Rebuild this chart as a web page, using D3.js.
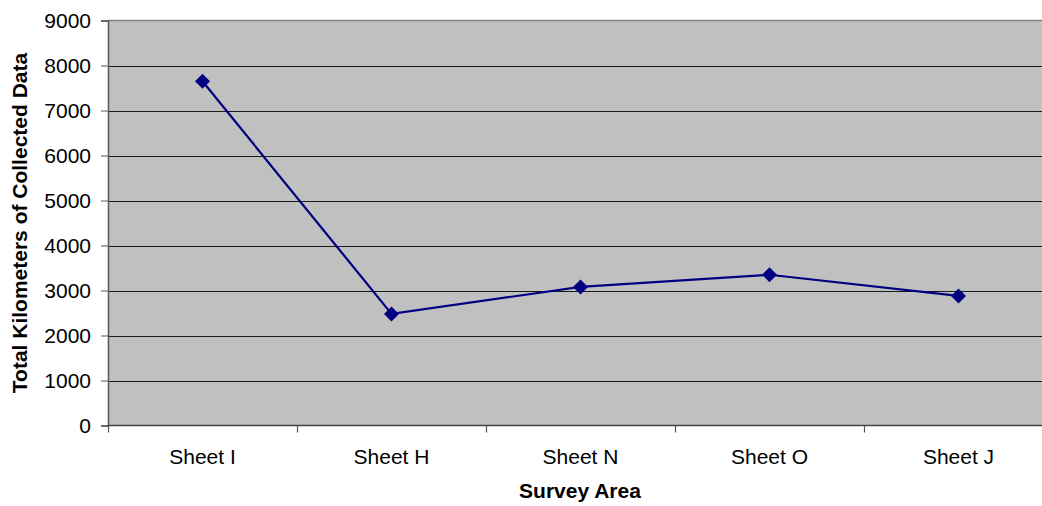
<!DOCTYPE html>
<html>
<head>
<meta charset="utf-8">
<script src="https://cdn.jsdelivr.net/npm/d3@7"></script>
<style>
  html, body { margin: 0; padding: 0; background: #fff; overflow: hidden; }
  svg { display: block; font-family: "Liberation Sans", Arial, sans-serif; }
</style>
</head>
<body>
<svg id="chart" width="1042" height="506"></svg>
<script>
// Survey areas and kilometres of data collected in each
const areas = ["Sheet I", "Sheet H", "Sheet N", "Sheet O", "Sheet J"];
const kilometers = [7650, 2480, 3080, 3350, 2880];
const yTicks = [0, 1000, 2000, 3000, 4000, 5000, 6000, 7000, 8000, 9000];

const svg = d3.select("#chart");
const plot = { left: 108, top: 20.5, right: 1053, bottom: 425.5 };
const FONT = "'Liberation Sans', Arial, sans-serif";

const x = d3.scaleBand().domain(areas).range([plot.left, plot.right]).padding(0);
const y = d3.scaleLinear().domain([0, 9000]).range([plot.bottom, plot.top]);

// plot background
svg.append("rect")
  .attr("x", plot.left).attr("y", plot.top)
  .attr("width", plot.right - plot.left).attr("height", plot.bottom - plot.top)
  .attr("fill", "#c0c0c0");

// top border of the plot
svg.append("line")
  .attr("x1", plot.left).attr("x2", plot.right)
  .attr("y1", plot.top).attr("y2", plot.top)
  .attr("stroke", "#808080").attr("stroke-width", 1.5);

// horizontal gridlines
svg.append("g").selectAll("line")
  .data(yTicks.filter(t => t > 0 && t < 9000))
  .join("line")
  .attr("x1", plot.left).attr("x2", plot.right)
  .attr("y1", d => Math.round(y(d)) + 0.5).attr("y2", d => Math.round(y(d)) + 0.5)
  .attr("stroke", "#1a1a1a").attr("stroke-width", 1.2);

// y axis
const yAxis = svg.append("g")
  .attr("transform", `translate(${plot.left},0)`)
  .call(d3.axisLeft(y).tickValues(yTicks).tickSize(7).tickPadding(10).tickFormat(d3.format("d")));
yAxis.select(".domain").attr("stroke", "#555").attr("stroke-width", 1.5);
yAxis.selectAll(".tick line").attr("stroke", "#555");
yAxis.selectAll("text").attr("font-size", 21).attr("fill", "#000")
  .attr("font-family", FONT);

// x axis with ticks at category boundaries
const boundaries = areas.map(a => x(a)).concat([plot.right]);
const xAxisG = svg.append("g");
xAxisG.append("line")
  .attr("x1", plot.left).attr("x2", plot.right)
  .attr("y1", plot.bottom).attr("y2", plot.bottom)
  .attr("stroke", "#444").attr("stroke-width", 1.5);
xAxisG.selectAll("line.tk")
  .data(boundaries)
  .join("line").attr("class", "tk")
  .attr("x1", d => Math.round(d) + 0.5).attr("x2", d => Math.round(d) + 0.5)
  .attr("y1", plot.bottom).attr("y2", plot.bottom + 7)
  .attr("stroke", "#555").attr("stroke-width", 1.2);
xAxisG.selectAll("text")
  .data(areas)
  .join("text")
  .attr("x", d => x(d) + x.bandwidth() / 2)
  .attr("y", 463.5)
  .attr("text-anchor", "middle")
  .attr("font-size", 21)
  .attr("fill", "#000")
  .text(d => d);

// data line
const cx = d => x(d) + x.bandwidth() / 2;
const line = d3.line().x((d, i) => cx(areas[i])).y(d => y(d));
svg.append("path")
  .datum(kilometers)
  .attr("d", line)
  .attr("fill", "none")
  .attr("stroke", "#000080")
  .attr("stroke-width", 2.2);

// diamond markers
svg.append("g").selectAll("path")
  .data(kilometers)
  .join("path")
  .attr("transform", (d, i) => `translate(${cx(areas[i])},${y(d)})`)
  .attr("d", "M0,-7.5L7.5,0L0,7.5L-7.5,0Z")
  .attr("fill", "#000080");

// axis titles
svg.append("text")
  .attr("x", 580).attr("y", 498)
  .attr("text-anchor", "middle")
  .attr("font-size", 21).attr("font-weight", "bold")
  .text("Survey Area");

svg.append("text")
  .attr("transform", `translate(27,${(plot.top + plot.bottom) / 2}) rotate(-90)`)
  .attr("text-anchor", "middle")
  .attr("font-size", 21).attr("font-weight", "bold")
  .text("Total Kilometers of Collected Data");
</script>
</body>
</html>
